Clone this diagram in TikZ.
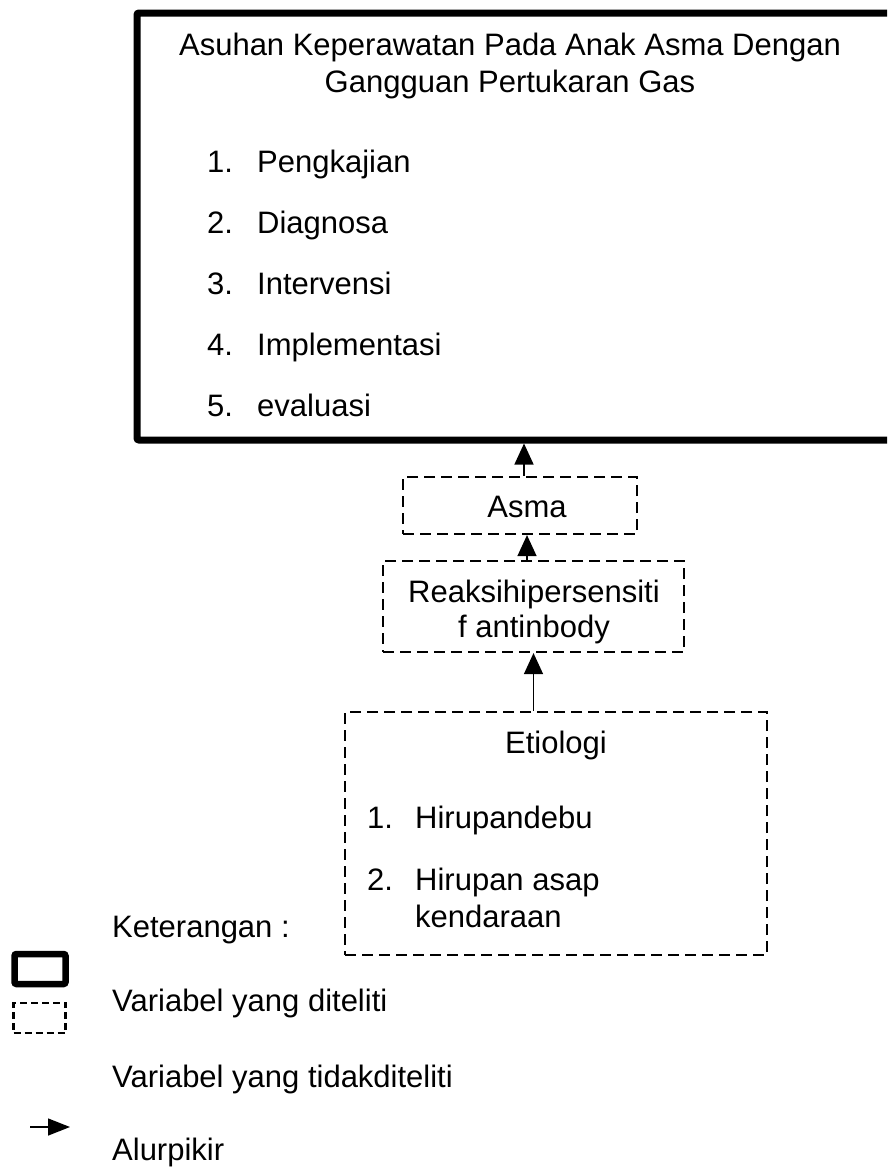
\documentclass[tikz,border=0pt]{standalone}
\usepackage{fontspec}
\setmainfont{Liberation Sans}
\usetikzlibrary{arrows.meta,calc}
\begin{document}
\begin{tikzpicture}[x=1pt,y=-1pt,
  every node/.style={font=\fontsize{31}{37}\selectfont, inner sep=0pt},
  txt/.style={anchor=base},
  txtw/.style={anchor=base west},
  thickbox/.style={draw, line width=7pt, rounded corners=2pt, rectangle},
  dashbox/.style={draw, line width=2.2pt, dash pattern=on 11pt off 6pt, rectangle},
  arr/.style={line width=1.4pt, -{Triangle[length=21pt,width=19pt]}},
  larr/.style={line width=1.4pt, -{Triangle[length=22pt,width=17pt]}}
]
\useasboundingbox (0,0) rectangle (887,1170);
\clip (0,0) rectangle (887,1170);

% main box
\node[thickbox, minimum width=768pt, minimum height=427pt] (top) at (521,226.5) {};
\node[txt] (t1) at (510,55) {Asuhan Keperawatan Pada Anak Asma Dengan};
\node[txt] (t2) at (510,92) {Gangguan Pertukaran Gas};
\node[txtw] (n1) at (207,172) {1.};
\node[txtw] (i1) at (257,172) {Pengkajian};
\node[txtw] (n2) at (207,233) {2.};
\node[txtw] (i2) at (257,233) {Diagnosa};
\node[txtw] (n3) at (207,294) {3.};
\node[txtw] (i3) at (257,294) {Intervensi};
\node[txtw] (n4) at (207,355) {4.};
\node[txtw] (i4) at (257,355) {Implementasi};
\node[txtw] (n5) at (207,416) {5.};
\node[txtw] (i5) at (257,416) {evaluasi};

% Asma
\node[dashbox, minimum width=234pt, minimum height=57pt] (asma) at (520,505.5) {};
\node[txt] (asmat) at (527,517) {Asma};

% Reaksi
\node[dashbox, minimum width=301pt, minimum height=91pt] (reak) at (533.5,606.5) {};
\node[txt] (reak1) at (534,602) {Reaksihipersensiti};
\node[txt] (reak2) at (534,637) {f antinbody};

% Etiologi
\node[dashbox, minimum width=422pt, minimum height=243pt] (etio) at (556,833.5) {};
\node[txt] (etiot) at (556,753) {Etiologi};
\node[txtw] (e1n) at (367,828) {1.};
\node[txtw] (e1) at (415,828) {Hirupandebu};
\node[txtw] (e2n) at (367,890) {2.};
\node[txtw] (e2) at (415,890) {Hirupan asap};
\node[txtw] (e2b) at (415,927) {kendaraan};

% connectors
\draw[arr] (etio.north -| reak.south) -- (reak.south);
\draw[arr] (asmat |- reak.north) -- (asmat |- asma.south);
\draw[arr] ([xshift=4pt]asma.north) -- ([xshift=4pt]asma.north |- top.south);

% legend
\node[txtw] (ket) at (112,937) {Keterangan :};
\node[thickbox, line width=6.5pt, minimum width=51pt, minimum height=30pt] (lg1) at (40,969) {};
\node[dashbox, line width=2.2pt, dash pattern=on 7pt off 4pt, minimum width=52pt, minimum height=30pt] (lg2) at (39.5,1018) {};
\node[txtw] (lt1) at (112,1011) {Variabel yang diteliti};
\node[txtw] (lt2) at (112,1087) {Variabel yang tidakditeliti};
\coordinate (la1) at (30,1127);
\coordinate (la2) at (70,1127);
\draw[larr] (la1) -- (la2);
\node[txtw] (lt3) at (112,1160) {Alurpikir};
\end{tikzpicture}
\end{document}
